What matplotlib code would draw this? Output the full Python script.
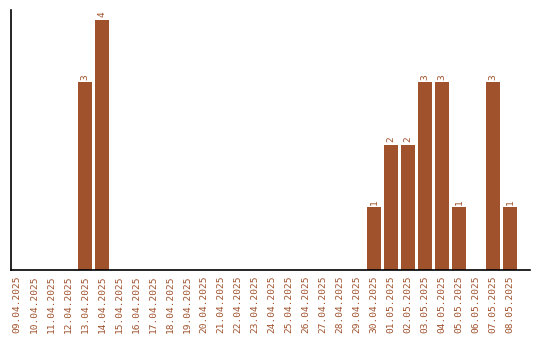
import matplotlib
matplotlib.use("Agg")
import matplotlib.pyplot as plt
import numpy as np

dates = ["09.04.2025", "10.04.2025", "11.04.2025", "12.04.2025", "13.04.2025",
         "14.04.2025", "15.04.2025", "16.04.2025", "17.04.2025", "18.04.2025",
         "19.04.2025", "20.04.2025", "21.04.2025", "22.04.2025", "23.04.2025",
         "24.04.2025", "25.04.2025", "26.04.2025", "27.04.2025", "28.04.2025",
         "29.04.2025", "30.04.2025", "01.05.2025", "02.05.2025", "03.05.2025",
         "04.05.2025", "05.05.2025", "06.05.2025", "07.05.2025", "08.05.2025"]
counts = [0, 0, 0, 0, 3, 4, 0, 0, 0, 0,
          0, 0, 0, 0, 0, 0, 0, 0, 0, 0,
          0, 1, 2, 2, 3, 3, 1, 0, 3, 1]

color = "#A0522D"

fig = plt.figure(figsize=(5.4, 3.4), dpi=100)
ax = fig.add_axes([0.0204, 0.206, 0.961, 0.765])

x = np.arange(len(dates))
bars = ax.bar(x, counts, width=0.82, color=color)

for xi, c in zip(x, counts):
    if c > 0:
        ax.text(xi, c + 0.04, str(c), rotation=90, ha="center", va="bottom",
                color=color, fontsize=6.8, family="DejaVu Sans Mono")

ax.set_xlim(-0.35, 30.18)
ax.set_ylim(0, 4.16)
ax.set_xticks(x)
ax.set_xticklabels(dates, rotation=90, color=color, fontsize=6.8,
                   family="DejaVu Sans Mono")
ax.tick_params(axis="x", length=0, pad=4)
ax.set_yticks([])
ax.spines["top"].set_visible(False)
ax.spines["right"].set_visible(False)
ax.spines["left"].set_linewidth(1.2)
ax.spines["bottom"].set_linewidth(1.2)

fig.savefig("out.png", dpi=100)
